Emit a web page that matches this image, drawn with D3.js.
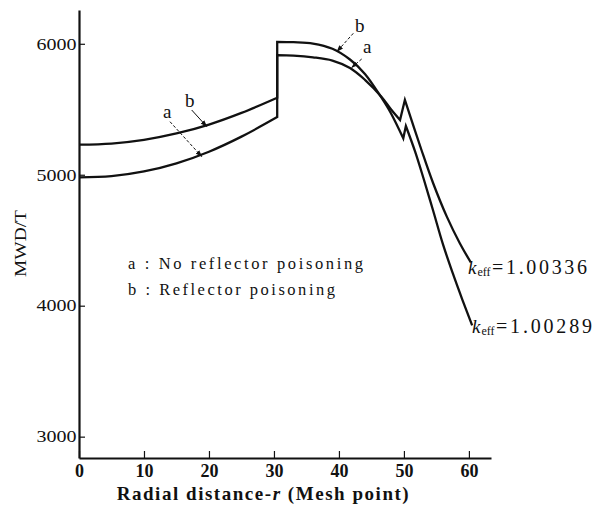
<!DOCTYPE html>
<html>
<head>
<meta charset="utf-8">
<script src="https://cdn.jsdelivr.net/npm/d3@7"></script>
<style>
  html, body { margin: 0; padding: 0; background: #fff; }
  svg { display: block; }
  text { font-family: "Liberation Serif", "DejaVu Serif", serif; fill: #111; }
</style>
</head>
<body>
<svg id="chart" width="599" height="511"></svg>
<script>
// ---- data ----
const xTicks = [0, 10, 20, 30, 40, 50, 60];
const yTicks = [3000, 4000, 5000, 6000];

// curve a : No reflector poisoning (keff = 1.00336)
const aInner = [[0, 4980], [5, 4989], [10, 5025], [15, 5087], [20, 5176], [25, 5291], [30.5, 5440]];
const aMiddle = [[30.5, 5914], [33, 5910], [36, 5897], [39, 5872], [41.7, 5815], [44, 5725], [46.5, 5598], [48, 5500], [49.4, 5418]];
const aOuter = [[50.15, 5571], [52.7, 5189], [54.5, 4935], [56.6, 4680], [58.6, 4477], [60.3, 4330]];

// curve b : Reflector poisoning (keff = 1.00289)
const bInner = [[0, 5230], [5, 5238], [10, 5266], [15, 5315], [20, 5383], [25, 5472], [30.5, 5588]];
const bMiddle = [[30.5, 6015], [33, 6012], [36, 6002], [39, 5962], [41.7, 5880], [44, 5770], [46.5, 5592], [48, 5470], [49.9, 5278]];
const bOuter = [[50.3, 5372], [51.7, 5180], [53, 4975], [54.5, 4725], [56, 4470], [57.5, 4250], [59, 4045], [60.5, 3850]];

const legendLines = ["a : No reflector poisoning", "b : Reflector poisoning"];
const keffLabels = ["1.00336", "1.00289"];

// ---- layout ----
const svg = d3.select("#chart");
const x = d3.scaleLinear().domain([0, 63.4]).range([79, 491]);
const y = d3.scaleLinear().domain([2837, 6258]).range([458, 10]);

// defs: arrowhead
svg.append("defs").append("marker")
  .attr("id", "arr").attr("viewBox", "0 0 10 10")
  .attr("refX", 9).attr("refY", 5)
  .attr("markerWidth", 7).attr("markerHeight", 7)
  .attr("markerUnits", "userSpaceOnUse")
  .attr("orient", "auto")
  .append("path").attr("d", "M0,1.5 L10,5 L0,8.5 Z").attr("fill", "#111");

// axes
const yAxis = d3.axisLeft(y).tickValues(yTicks).tickSizeInner(-6).tickSizeOuter(0).tickPadding(2.5)
  .tickFormat(d3.format("d"));
const gy = svg.append("g").attr("transform", `translate(${x.range()[0]},0)`).call(yAxis);
gy.select(".domain").attr("stroke", "#111").attr("stroke-width", 2.2);
gy.selectAll(".tick line").attr("stroke", "#111").attr("stroke-width", 1.2);
gy.selectAll(".tick text").attr("font-size", 16.5).attr("font-family", "Liberation Serif")
  .attr("fill", "#111").attr("textLength", 40).attr("lengthAdjust", "spacingAndGlyphs");

const xAxis = d3.axisBottom(x).tickValues(xTicks).tickSizeInner(-7).tickSizeOuter(0).tickPadding(6)
  .tickFormat(d3.format("d"));
const gx = svg.append("g").attr("transform", `translate(0,${y.range()[0]})`).call(xAxis);
gx.select(".domain").attr("stroke", "#111").attr("stroke-width", 2.2);
gx.selectAll(".tick line").attr("stroke", "#111").attr("stroke-width", 1.2);
gx.selectAll(".tick text").attr("font-size", 18).attr("font-weight", "bold")
  .attr("font-family", "Liberation Serif").attr("fill", "#111");

// curves
const line = d3.line().x(d => x(d[0])).y(d => y(d[1])).curve(d3.curveCatmullRom.alpha(0.5));
function joined(segs) {
  return segs.map((s, i) => i === 0 ? line(s) : line(s).replace(/^M/, "L")).join("");
}
svg.append("path").attr("d", joined([aInner, aMiddle, aOuter]))
  .attr("fill", "none").attr("stroke", "#111").attr("stroke-width", 2.3).attr("stroke-linejoin", "miter");
svg.append("path").attr("d", joined([bInner, bMiddle, bOuter]))
  .attr("fill", "none").attr("stroke", "#111").attr("stroke-width", 2.3).attr("stroke-linejoin", "miter");

// leader lines with arrows
const leaders = [
  [191.7, 110, 206.7, 126.5, "none"],
  [170, 121.7, 201.7, 156.5, "3,2"],
  [353.3, 33.3, 337, 51.5, "3,2"],
  [361.7, 59, 351.7, 67.5, "3,2"]
];
leaders.forEach(l => {
  svg.append("line").attr("x1", l[0]).attr("y1", l[1]).attr("x2", l[2]).attr("y2", l[3])
    .attr("stroke", "#111").attr("stroke-width", 1).attr("stroke-dasharray", l[4])
    .attr("marker-end", "url(#arr)");
});

// curve letters
const letters = [["b", 185, 107], ["a", 163, 118], ["b", 355, 32], ["a", 363, 53]];
letters.forEach(t => {
  svg.append("text").attr("x", t[1]).attr("y", t[2]).attr("font-size", 19).text(t[0]);
});

// legend
svg.append("text").attr("x", 128).attr("y", 268.5).attr("font-size", 16.5)
  .attr("textLength", 235).attr("lengthAdjust", "spacing").text(legendLines[0]);
svg.append("text").attr("x", 128).attr("y", 295).attr("font-size", 16.5)
  .attr("textLength", 207).attr("lengthAdjust", "spacing").text(legendLines[1]);

// keff labels
function keff(x0, base, val, eqX, eqLen) {
  svg.append("text").attr("x", x0).attr("y", base).attr("font-size", 19).attr("font-style", "italic").text("k");
  svg.append("text").attr("x", x0 + 9.5).attr("y", base + 2).attr("font-size", 12).text("eff");
  svg.append("text").attr("x", eqX).attr("y", base).attr("font-size", 20)
    .attr("textLength", eqLen).attr("lengthAdjust", "spacing").text("=" + val);
}
keff(468, 273.5, keffLabels[0], 492, 95);
keff(472, 333, keffLabels[1], 496, 96);

// axis titles
svg.append("text").attr("transform", "translate(25.5,243.5) rotate(-90)")
  .attr("text-anchor", "middle").attr("font-size", 16)
  .attr("textLength", 67).attr("lengthAdjust", "spacingAndGlyphs").text("MWD/T");

const xt = svg.append("text").attr("x", 116.7).attr("y", 500).attr("font-size", 19).attr("font-weight", "bold")
  .attr("textLength", 292).attr("lengthAdjust", "spacing");
xt.append("tspan").text("Radial distance-");
xt.append("tspan").attr("font-style", "italic").text("r");
xt.append("tspan").text(" (Mesh point)");
</script>
</body>
</html>
